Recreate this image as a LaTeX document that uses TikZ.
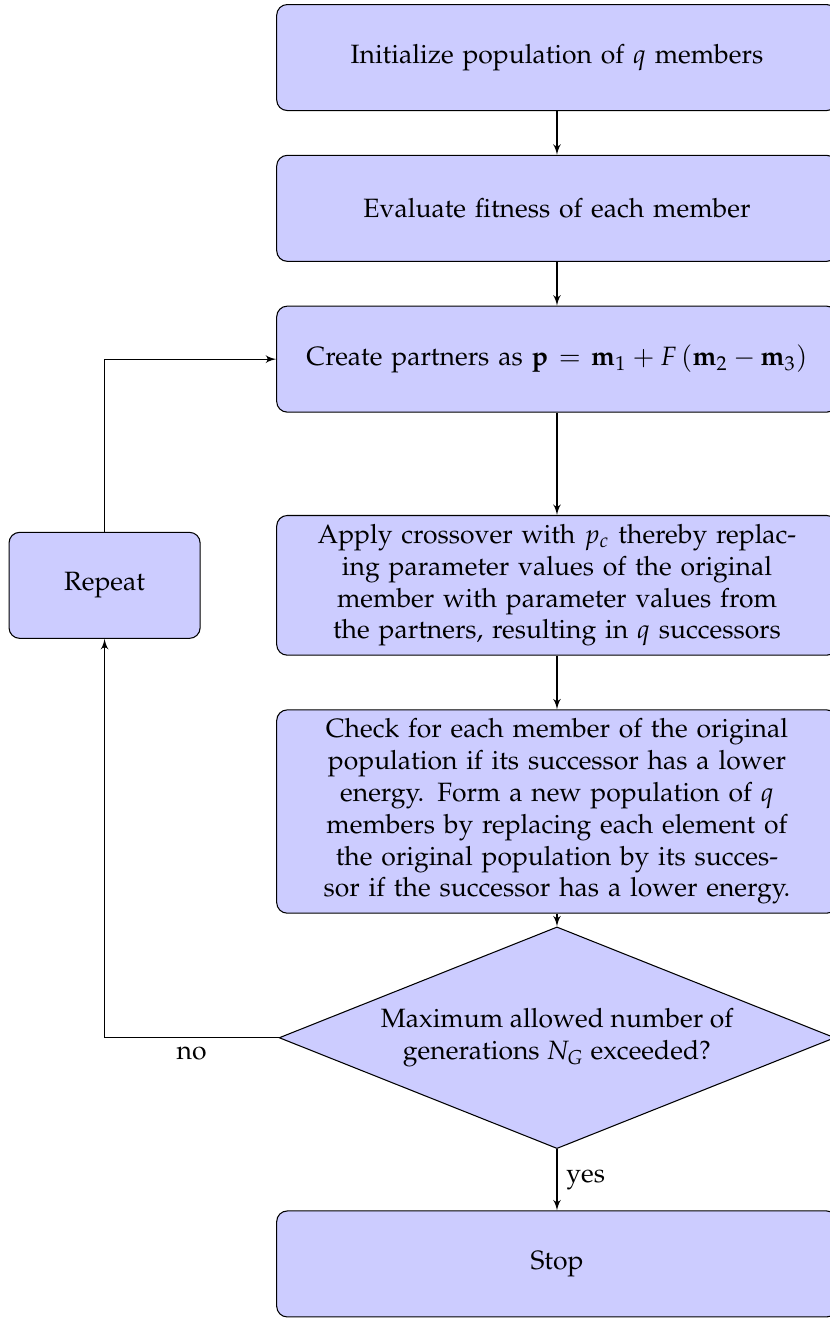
\documentclass[tikz,border=0pt]{standalone}
\usepackage[T1]{fontenc}
\usepackage{mathpazo}
\usetikzlibrary{positioning,shapes.geometric,arrows}

\begin{document}
\begin{tikzpicture}[node distance=2cm, on grid]
\tikzstyle{box}=[draw, fill=blue!20, rounded corners, align=center, text width=7.2cm, minimum height=4em]
\tikzstyle{decision}=[diamond, draw, fill=blue!20, aspect=2.5, inner sep=0pt, align=center, minimum width=7.37cm, minimum height=2.94cm]
\tikzstyle{line}=[draw, -latex']
\useasboundingbox (0,0) rectangle (10.995,-17.48);
\node[box] (init) at (7.387,-0.763) {Initialize population of $q$ members};
\node[box, below=of init] (eval) {Evaluate fitness of each member};
\node[box, below=of eval] (partner) {Create partners as $\mathbf{p} = \mathbf{m}_1 + F\left(\mathbf{m}_2 - \mathbf{m}_3\right)$};
\node[box, below=3cm of partner] (cross) {Apply crossover with $p_c$ thereby replac-\\ing parameter values of the original\\member with parameter values from\\the partners, resulting in $q$ successors};
\node[box, below=3cm of cross] (check) {Check for each member of the original\\population if its successor has a lower\\energy. Form a new population of $q$\\members by replacing each element of\\the original population by its succes-\\sor if the successor has a lower energy.};
\node[decision, below=3cm of check] (maxgen) {Maximum allowed number of\\generations $N_G$ exceeded?};
\node[box, below=3cm of maxgen] (stop) {Stop};
\node[box, text width=2.3cm, left=6cm of cross] (repeat) {Repeat};
% main chain
\path[line] (init) -- (eval);
\path[line] (eval) -- (partner);
\path[line] (partner) -- (cross);
\path[line] (cross) -- (check);
\path[line] (check) -- (maxgen);
\path[line] (maxgen) -- node[right] {yes} (stop);
% loop back
\path[line] (maxgen) -| node[near start, below] {no} (repeat);
\path[line] (repeat) |- (partner);
\end{tikzpicture}
\end{document}
